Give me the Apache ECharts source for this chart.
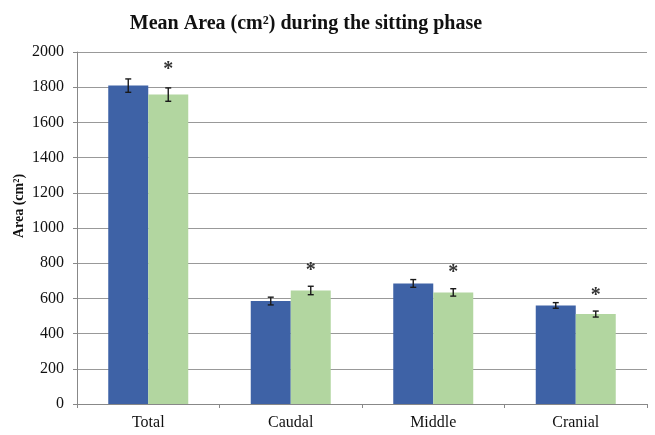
<!DOCTYPE html>
<html>
<head>
<meta charset="utf-8">
<script src="https://cdn.jsdelivr.net/npm/echarts@6/dist/echarts.min.js"></script>
<style>html,body{margin:0;padding:0;background:#fff;}#c{width:655px;height:435px;}</style>
</head>
<body>
<div id="c"></div>
<script>
var categories = ['Total', 'Caudal', 'Middle', 'Cranial'];
var seriesA = [1809, 585, 685, 560];
var errA = [38, 22, 22, 16];
var seriesB = [1758, 645, 634, 511];
var errB = [38, 24, 21, 17];
var signif = ['*', '*', '*', '*'];
var signifLevel = [1913, 776, 760, 630];
var yTicks = [0, 200, 400, 600, 800, 1000, 1200, 1400, 1600, 1800, 2000];

var chart = echarts.init(document.getElementById('c'));
var font = '"Liberation Serif", "Times New Roman", serif';

function errRender(offsetFrac, errs, marks, levels) {
  return function (params, api) {
    var i = api.value(0);
    var v = api.value(1);
    var e = errs[i];
    var bw = api.size([1, 0])[0];
    var x = api.coord([i, v])[0] + offsetFrac * bw;
    var yTop = api.coord([i, v + e])[1];
    var yBot = api.coord([i, v - e])[1];
    var st = { stroke: '#1a1a1a', lineWidth: 1.4 };
    var ch = [
      { type: 'line', shape: { x1: x, y1: yTop, x2: x, y2: yBot }, style: st },
      { type: 'line', shape: { x1: x - 3, y1: yTop, x2: x + 3, y2: yTop }, style: st },
      { type: 'line', shape: { x1: x - 3, y1: yBot, x2: x + 3, y2: yBot }, style: st }
    ];
    if (marks) {
      var ys = api.coord([i, levels[i]])[1];
      ch.push({ type: 'text', style: { text: marks[i], x: x, y: ys + 3, textAlign: 'center', textVerticalAlign: 'middle', font: 'bold 20px ' + font, fill: '#333' } });
    }
    return { type: 'group', children: ch };
  };
}

chart.setOption({
  animation: false,
  title: {
    text: 'Mean Area (cm²) during the sitting phase',
    left: 301, top: 9, textAlign: 'center',
    textStyle: { fontFamily: font, fontWeight: 'bold', fontSize: 20, color: '#111' }
  },
  graphic: [{
    type: 'text', x: 19, y: 206, rotation: Math.PI / 2,
    style: { text: 'Area (cm²)', font: 'bold 14px ' + font, fill: '#111', textAlign: 'center', textVerticalAlign: 'middle' }
  }],
  grid: { left: 77, right: 8, top: 52, bottom: 31 },
  xAxis: {
    type: 'category', data: categories,
    axisLine: { lineStyle: { color: '#888' } },
    axisTick: { show: true, length: 4, lineStyle: { color: '#888' } },
    axisLabel: { fontFamily: font, fontSize: 16, color: '#111', margin: 11 }
  },
  yAxis: {
    type: 'value', min: 0, max: 2000, interval: 200,
    axisLine: { show: true, lineStyle: { color: '#888' } },
    axisTick: { show: true, length: 4, lineStyle: { color: '#888' } },
    splitLine: { lineStyle: { color: '#999' } },
    axisLabel: { fontFamily: font, fontSize: 16, color: '#111', margin: 13,
      formatter: function (v) { return yTicks.indexOf(v) >= 0 ? String(v) : ''; } }
  },
  series: [
    { type: 'bar', data: seriesA, barWidth: 40, barGap: '0%', itemStyle: { color: '#3e62a6' } },
    { type: 'bar', data: seriesB, barWidth: 40, itemStyle: { color: '#b2d6a0' } },
    { type: 'custom', data: seriesA.map(function (v, i) { return [i, v]; }), renderItem: errRender(-20 / 142.5, errA, null, null), z: 5 },
    { type: 'custom', data: seriesB.map(function (v, i) { return [i, v]; }), renderItem: errRender(20 / 142.5, errB, signif, signifLevel), z: 5 }
  ]
});
</script>
</body>
</html>
